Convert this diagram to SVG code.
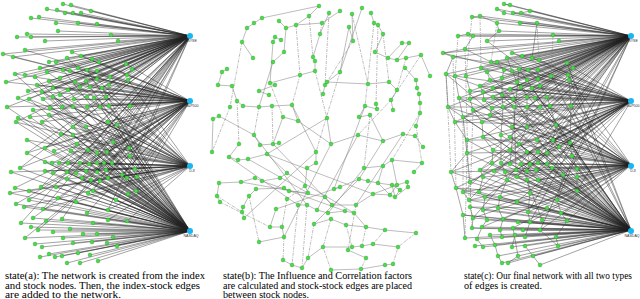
<svg xmlns="http://www.w3.org/2000/svg" width="640" height="299" viewBox="0 0 640 299">
<style>
.ie{fill:none;stroke:#222;stroke-width:.42;stroke-linejoin:bevel}
.se{fill:none;stroke:#7a7a7a;stroke-width:.5}
.sd{fill:none;stroke:#7a7a7a;stroke-width:.5;stroke-dasharray:3 1 1 1}
.sc{fill:none;stroke:#4a4a4a;stroke-width:.5}
.st circle{r:1.9px;fill:#48dc48;stroke:#2a9a2a;stroke-width:.4}
.hub circle{r:3px;fill:#1ab6ef}
.hl{font-family:"Liberation Sans",Arial,sans-serif;font-size:3.6px;fill:#333;text-anchor:middle}
.cap{font-family:"Liberation Serif","Times New Roman",serif;font-size:9.6px;fill:#000}
</style>
<rect width="640" height="299" fill="#fff"/>
<g id="connectors">
<path class="ie" d="M63,4 190,36 71,5M47,9 190,36 57,10M65,13 190,36 73,13M81,13 190,36 91,11M31,18 190,36 39,17M56,23 190,36 78,23M97,24 190,36 58,31M17,37 190,36 27,34M31,37 190,36 111,35M45,41 190,36 118,41M25,50 190,36 3,54M13,57 190,36 72,52M81,56 190,36 92,59M99,62 190,36 49,62M56,62 190,36 67,58M126,64 190,36 132,69M15,74 190,36 25,75M6,82 190,36 35,77M40,68 190,36 47,72M63,70 190,36 70,71M78,68 190,36 87,70M97,71 190,36 127,75M49,81 190,36 60,78M75,82 190,36 86,81M97,79 190,36 110,77M37,85 190,36 18,98M28,91 190,36 42,92M53,88 190,36 60,95M68,90 190,36 80,87M90,87 190,36 102,88M109,85 190,36 128,80M7,107 190,36 29,99M43,99 190,36 53,97M74,99 190,36 87,97M94,98 190,36 106,97M130,106 190,36 50,108M87,107 190,36 16,122M42,122 190,36 117,125M45,148 190,36 77,144M88,150 190,36 113,142M27,153 190,36 59,163M89,164 190,36 112,163M20,168 190,36 67,172M97,172 190,36 127,178M82,178 190,36 108,178M41,187 190,36 93,191M43,209 190,36 108,210M62,219 190,36 21,223"/>
<path class="ie" d="M25,50 190,101 13,57M3,54 190,101 81,56M99,62 190,101 56,62M126,64 190,101 15,74M6,82 190,101 40,68M63,70 190,101 78,68M97,71 190,101 49,81M75,82 190,101 97,79M37,85 190,101 28,91M53,88 190,101 68,90M90,87 190,101 109,85M7,107 190,101 43,99M74,99 190,101 94,98M130,106 190,101 33,110M62,107 190,101 87,107M109,106 190,101 30,117M42,122 190,101 86,127M108,122 190,101 45,148M73,135 190,101 54,151M88,150 190,101 107,152M129,148 190,101 27,153M52,163 190,101 68,163M89,164 190,101 104,163M135,169 190,101 20,168M53,173 190,101 76,173M97,172 190,101 122,175M137,177 190,101 82,178M100,181 190,101 15,188M41,187 190,101 88,193M136,191 190,101 16,204M29,200 190,101 58,198M116,200 190,101 87,213M33,218 190,101 38,230M25,238 190,101 72,52"/>
<path class="ie" d="M110,77 190,166 18,98M42,92 190,166 60,95M80,87 190,166 102,88M128,80 190,166 29,99M53,97 190,166 87,97M106,97 190,166 18,118M50,108 190,166 73,107M100,107 190,166 16,122M49,115 190,166 73,127M117,125 190,166 27,140M61,134 190,166 77,144M71,151 190,166 97,153M113,142 190,166 130,156M45,162 190,166 59,163M80,163 190,166 97,163M112,163 190,166 11,172M45,171 190,166 67,172M86,171 190,166 106,170M127,178 190,166 67,179M91,180 190,166 108,178M29,191 190,166 56,187M93,191 190,166 10,193M24,207 190,166 43,209M76,202 190,166 128,194M108,210 190,166 127,221M108,220 190,166 47,72M87,70 190,166 67,58"/>
<path class="ie" d="M18,118 190,231 33,110M50,108 190,231 62,107M73,107 190,231 87,107M100,107 190,231 109,106M16,122 190,231 30,117M49,115 190,231 42,122M73,127 190,231 86,127M117,125 190,231 108,122M27,140 190,231 45,148M61,134 190,231 73,135M77,144 190,231 54,151M71,151 190,231 88,150M97,153 190,231 107,152M113,142 190,231 129,148M130,156 190,231 27,153M45,162 190,231 52,163M59,163 190,231 68,163M80,163 190,231 89,164M97,163 190,231 104,163M112,163 190,231 135,169M11,172 190,231 20,168M45,171 190,231 53,173M67,172 190,231 76,173M86,171 190,231 97,172M106,170 190,231 122,175M127,178 190,231 137,177M67,179 190,231 82,178M91,180 190,231 100,181M108,178 190,231 15,188M29,191 190,231 41,187M56,187 190,231 88,193M93,191 190,231 136,191M10,193 190,231 16,204M24,207 190,231 29,200M43,209 190,231 58,198M76,202 190,231 116,200M128,194 190,231 87,213M108,210 190,231 127,221M21,223 190,231 33,218M46,221 190,231 62,219M93,223 190,231 108,220M31,227 190,231 38,230M53,232 190,231 70,229M83,234 190,231 97,234M113,237 190,231 25,238M35,244 190,231 63,238M73,243 190,231 107,243M117,246 190,231 42,247M40,257 190,231 49,254M55,257 190,231 62,256M78,253 190,231 90,255M67,263 190,231 80,263M98,261 190,231 92,242M15,74 190,231 35,77M63,70 190,231 87,70M49,81 190,231 86,81M37,85 190,231 42,92M68,90 190,231 102,88M7,107 190,231 53,97M94,98 190,231 29,99"/>
<path class="se" d="M319,6L309,16M319,6L262,18M262,18L254,23M254,23L247,28M247,28L242,42M279,21L286,28M286,28L296,25M296,25L322,23M286,28L284,52M284,52L273,62M273,62L259,107M281,40L275,37M275,37L273,42M273,42L270,83M309,16L296,25M329,13L320,34M340,11L322,23M352,14L353,41M353,41L349,27M362,8L340,72M371,13L374,23M374,23L378,25M378,25L383,34M383,34L375,52M375,52L388,58M388,58L397,60M397,60L406,58M406,58L421,55M402,43L409,43M402,43L388,58M409,43L397,60M421,55L430,76M405,68L416,80M416,80L417,88M417,88L419,94M419,94L420,103M420,103L420,113M420,113L416,126M313,57L315,61M315,61L315,71M315,71L300,75M300,75L270,83M270,83L275,85M275,85L259,91M259,91L269,95M227,69L222,72M222,72L218,85M218,85L232,86M232,86L237,101M237,101L243,106M243,106L259,107M259,107L272,106M272,106L292,105M292,105L298,121M298,121L283,117M283,117L273,144M325,85L327,82M327,82L368,84M368,84L389,82M389,82L397,90M397,90L391,100M391,100L393,110M376,104L377,109M377,109L365,106M365,106L359,117M359,117L370,115M370,115L383,141M327,118L331,144M323,94L325,85M320,34L313,57M349,27L340,72M340,72L327,82M253,58L242,42M219,116L213,119M213,119L212,152M219,116L254,135M254,135L260,145M260,145L273,144M273,144L279,143M239,144L229,157M229,157L238,160M238,160L248,159M248,159L267,154M267,154L287,173M287,173L280,178M280,178L262,181M262,181L255,178M255,178L241,182M241,182L219,183M219,183L217,196M217,196L220,202M316,152L316,163M316,163L307,168M307,168L305,186M305,186L308,193M308,193L289,191M289,191L284,188M284,188L256,189M256,189L249,196M249,196L243,207M243,207L242,212M242,212L244,218M331,144L358,135M358,135L383,141M383,141L403,134M403,134L415,136M415,136L423,147M364,168L383,166M383,166L392,160M392,160L422,163M422,163L414,172M359,179L368,181M368,181L378,183M378,183L392,185M392,185L397,185M397,185L407,182M407,182L408,187M373,194L390,195M390,195L395,197M395,197L400,190M378,183L390,195M392,185L395,197M397,185L390,195M400,190L392,185M408,187L395,197M373,194L397,185M383,166L378,183M392,160L397,185M334,189L340,187M340,187L359,179M325,197L332,205M332,205L356,205M356,205L373,194M298,205L307,205M307,205L317,210M317,210L328,213M328,213L345,211M345,211L354,213M354,213L366,227M276,209L270,227M270,227L282,227M282,227L284,237M284,237L259,242M314,224L331,219M331,219L346,225M346,225L366,227M366,227L385,230M385,230L416,233M323,247L352,247M352,247L362,246M362,246L373,244M373,244L398,247M283,260L292,265M292,265L302,268M302,268L308,258M308,258L323,247M331,270L361,269M361,269L385,265M385,265L393,264M348,250L366,258M254,135L307,205M229,157L298,205M241,182L325,197M316,152L244,218M331,144L284,237M358,135L317,210M403,134L356,205M287,173L354,213M262,181L345,211M267,154L373,194M273,144L332,205M340,187L276,209M359,179L314,224M364,168L328,213M248,159L308,193M292,105L316,152M298,121L331,144M327,118L267,154M365,106L334,189M383,141L359,179"/>
<path class="sd" d="M420,113L392,160M416,126L422,163M391,100L358,135M370,115L364,168M272,106L273,144M259,107L254,135M237,101L239,144M230,107L212,152M340,72L316,152M315,71L327,118M300,75L292,105M270,83L283,117M322,23L320,34M296,25L300,75M309,16L313,57M329,13L325,85M352,14L368,84M374,23L365,106M378,25L376,104M383,34L389,82M353,41L327,82M421,55L391,100M406,58L397,90M249,196L259,242M220,202L270,227M217,196L242,212M287,199L282,227M287,199L305,186M366,227L362,246M385,230L373,244M416,233L398,247M346,225L352,247M331,219L323,247M314,224L308,258M284,237L283,260M331,270L323,247M366,258L361,269M393,264L398,247M356,205L348,250M307,205L302,268M298,205L292,265M242,42L230,107"/>
<path class="ie" d="M504,4 631,36 510,5M497,9 631,36 504,13M513,13 631,36 521,13M530,11 631,36 472,17M480,16 631,36 497,23M520,23 631,36 537,23M499,31 631,36 458,36M468,34 631,36 473,36M553,35 631,36 487,41M559,41 631,36 465,49M443,53 631,36 453,57M512,53 631,36 522,56M532,58 631,36 491,62M497,62 631,36 507,58M539,60 631,36 567,63M573,68 631,36 446,74M455,76 631,36 466,76M481,68 631,36 487,72M504,70 631,36 512,71M519,69 631,36 528,70M538,70 631,36 568,75M490,80 631,36 502,78M517,82 631,36 527,80M538,79 631,36 551,76M480,86 631,36 459,98M470,91 631,36 483,92M493,88 631,36 502,95M510,89 631,36 521,87M532,88 631,36 540,86M569,80 631,36 448,107M470,99 631,36 484,100M493,97 631,36 513,99M527,97 631,36 535,98M547,97 631,36 571,106M455,122 631,36 473,110M492,108 631,36 503,107M514,107 631,36 527,107M540,107 631,36 550,106M463,117 631,36 490,115M482,122 631,36 512,127M527,127 631,36 556,125M483,137 631,36 537,140M493,150 631,36 547,153M501,163 631,36 538,163M480,170 631,36 527,171M517,177 631,36 463,192M469,200 631,36 557,200M528,212 631,36 473,218M530,222 631,36 540,230"/>
<path class="ie" d="M443,53 631,101 512,53M532,58 631,101 497,62M539,60 631,101 573,68M455,76 631,101 481,68M504,70 631,101 519,69M538,70 631,101 490,80M517,82 631,101 538,79M480,86 631,101 470,91M493,88 631,101 510,89M532,88 631,101 569,80M470,99 631,101 493,97M527,97 631,101 547,97M455,122 631,101 492,108M514,107 631,101 540,107M463,117 631,101 482,122M527,127 631,101 467,140M501,135 631,101 519,144M553,140 631,101 467,153M510,150 631,101 538,152M559,147 631,101 492,163M510,164 631,101 530,164M547,164 631,101 451,172M494,171 631,101 516,170M536,170 631,101 563,175M470,182 631,101 507,180M527,180 631,101 456,188M479,192 631,101 577,191M485,197 631,101 517,202"/>
<path class="ie" d="M551,76 631,165 459,98M483,92 631,165 502,95M521,87 631,165 540,86M448,107 631,165 484,100M513,99 631,165 535,98M571,106 631,165 473,110M503,107 631,165 527,107M550,106 631,165 490,115M512,127 631,165 556,125M483,137 631,165 510,137M537,140 631,165 570,143M493,150 631,165 527,152M547,153 631,165 572,156M501,163 631,165 521,164M538,163 631,165 577,169M480,170 631,165 505,172M527,171 631,165 552,168M577,177 631,165 483,177M517,177 631,165 538,180M463,192 631,165 530,193M469,200 631,165 500,197M557,200 631,165 483,210M528,212 631,165 561,213M473,218 631,165 503,219M530,222 631,165 567,221M482,227 631,165 513,228M540,230 631,165 568,75"/>
<path class="ie" d="M467,140 631,230 483,137M501,135 631,230 510,137M519,144 631,230 537,140M553,140 631,230 570,143M467,153 631,230 493,150M510,150 631,230 527,152M538,152 631,230 547,153M559,147 631,230 572,156M492,163 631,230 501,163M510,164 631,230 521,164M530,164 631,230 538,163M547,164 631,230 577,169M451,172 631,230 480,170M494,171 631,230 505,172M516,170 631,230 527,171M536,170 631,230 552,168M563,175 631,230 577,177M470,182 631,230 483,177M507,180 631,230 517,177M527,180 631,230 538,180M456,188 631,230 463,192M479,192 631,230 530,193M577,191 631,230 469,200M485,197 631,230 500,197M517,202 631,230 557,200M470,207 631,230 483,210M498,208 631,230 528,212M547,208 631,230 561,213M463,215 631,230 473,218M487,220 631,230 503,219M518,222 631,230 530,222M542,220 631,230 567,221M472,228 631,230 482,227M500,230 631,230 513,228M523,230 631,230 540,230M465,238 631,230 477,239M490,235 631,230 502,237M515,235 631,230 525,237M556,237 631,230 483,247M495,245 631,230 512,247M558,246 631,230 475,246M498,256 631,230 502,263M508,263 631,230 518,256M533,256 631,230 540,265M525,246 631,230 567,63M446,74 631,230 487,72M519,69 631,230 568,75M517,82 631,230 551,76M459,98 631,230 502,95M532,88 631,230 448,107M493,97 631,230 535,98M571,106 631,230 492,108M527,107 631,230 463,117M512,127 631,230 556,125"/>
<path class="sc" d="M472,17L480,16M480,16L497,23M497,23L499,31M499,31L487,41M504,4L510,5M497,9L504,13M513,13L521,13M521,13L530,11M520,23L537,23M537,23L532,58M458,36L468,34M468,34L473,36M473,36L465,49M465,49L443,53M443,53L453,57M453,57L446,74M446,74L448,107M448,107L455,122M455,122L467,140M467,140L467,153M467,153L451,172M451,172L456,188M456,188L463,215M463,215L465,238M455,76L459,98M459,98L463,117M463,117L470,182M466,76L470,91M470,91L470,99M470,99L473,110M473,110L482,122M482,122L483,137M483,137L493,150M493,150L492,163M492,163L480,170M480,170L483,177M483,177L479,192M479,192L485,197M485,197L483,210M483,210L487,220M487,220L482,227M482,227L477,239M477,239L483,247M512,53L522,56M522,56L532,58M532,58L539,60M507,58L512,71M512,71L517,82M517,82L521,87M521,87L527,97M527,97L527,107M527,107L527,127M527,127L519,144M519,144L527,152M527,152L530,164M530,164L527,171M527,171L527,180M527,180L530,193M530,193L528,212M528,212L530,222M530,222L525,237M538,70L538,79M538,79L540,86M540,86L547,97M547,97L550,106M550,106L556,125M556,125L553,140M553,140L559,147M559,147L547,153M547,153L547,164M547,164L552,168M552,168L563,175M563,175L557,200M557,200L561,213M561,213L567,221M567,221L556,237M556,237L558,246M567,63L573,68M573,68L568,75M568,75L569,80M569,80L571,106M571,106L570,143M570,143L572,156M572,156L577,169M577,169L577,177M577,177L577,191M491,62L497,62M497,62L504,70M504,70L502,78M502,78L502,95M502,95L503,107M503,107L501,135M501,135L501,163M501,163L505,172M505,172L507,180M507,180L500,197M500,197L498,208M498,208L503,219M503,219L500,230M500,230L502,237M481,68L487,72M487,72L490,80M490,80L480,86M480,86L483,92M483,92L484,100M484,100L492,108M492,108L490,115M487,41L538,79M465,49L527,80M453,57L538,70M446,74L538,107M459,98L547,97M448,107L540,107M455,122L556,125M467,140L537,140M467,153L538,152M451,172L536,170M456,188L530,193M463,215L530,222M472,228L540,230M470,207L547,208M469,200L557,200M510,89L547,153M512,127L567,63M493,88L559,147M510,137L568,75M519,69L510,164M514,107L516,170M510,150L538,180M521,164L542,220M513,228L518,256M498,256L502,263M508,263L518,256M533,256L540,265M525,246L533,256M495,245L498,256M490,235L495,245M512,247L515,235M558,246L540,230M463,192L469,200M470,207L473,218M473,218L472,228"/>
<path class="sd" d="M458,36L455,76M472,17L466,76M480,16L481,68M465,49L469,200M453,57L456,188M446,74L451,172M473,110L470,207M470,182L472,228M467,153L465,238M463,117L463,192M497,23L491,62M537,23L539,60M553,35L551,76"/>
</g>
<g class="hub">
<g id="a-nyse"><circle cx="190" cy="36"/><text class="hl" x="192" y="42">NYSE</text></g>
<g id="a-sp"><circle cx="190" cy="101"/><text class="hl" x="192" y="107">S&amp;P500</text></g>
<g id="a-dji"><circle cx="190" cy="166"/><text class="hl" x="192" y="172">DJI</text></g>
<g id="a-nasdaq"><circle cx="190" cy="231"/><text class="hl" x="191" y="237">NASDAQ</text></g>
<g id="c-nyse"><circle cx="631" cy="36"/><text class="hl" x="633" y="42">NYSE</text></g>
<g id="c-sp"><circle cx="631" cy="101"/><text class="hl" x="633" y="107">S&amp;P500</text></g>
<g id="c-dji"><circle cx="631" cy="166"/><text class="hl" x="633" y="172">DJI</text></g>
<g id="c-nasdaq"><circle cx="631" cy="231"/><text class="hl" x="632" y="237">NASDAQ</text></g>
</g>
<g class="st" id="nodes-a">
<g id="a1"><circle cx="63" cy="4"/></g><g id="a2"><circle cx="71" cy="5"/></g><g id="a3"><circle cx="47" cy="9"/></g><g id="a4"><circle cx="57" cy="10"/></g><g id="a5"><circle cx="65" cy="13"/></g><g id="a6"><circle cx="73" cy="13"/></g><g id="a7"><circle cx="81" cy="13"/></g><g id="a8"><circle cx="91" cy="11"/></g><g id="a9"><circle cx="31" cy="18"/></g><g id="a10"><circle cx="39" cy="17"/></g><g id="a11"><circle cx="56" cy="23"/></g><g id="a12"><circle cx="78" cy="23"/></g><g id="a13"><circle cx="97" cy="24"/></g><g id="a14"><circle cx="58" cy="31"/></g><g id="a15"><circle cx="17" cy="37"/></g><g id="a16"><circle cx="27" cy="34"/></g><g id="a17"><circle cx="31" cy="37"/></g><g id="a18"><circle cx="111" cy="35"/></g><g id="a19"><circle cx="45" cy="41"/></g><g id="a20"><circle cx="118" cy="41"/></g><g id="a21"><circle cx="25" cy="50"/></g><g id="a22"><circle cx="3" cy="54"/></g><g id="a23"><circle cx="13" cy="57"/></g><g id="a24"><circle cx="72" cy="52"/></g><g id="a25"><circle cx="81" cy="56"/></g><g id="a26"><circle cx="92" cy="59"/></g><g id="a27"><circle cx="99" cy="62"/></g><g id="a28"><circle cx="49" cy="62"/></g><g id="a29"><circle cx="56" cy="62"/></g><g id="a30"><circle cx="67" cy="58"/></g><g id="a31"><circle cx="126" cy="64"/></g><g id="a32"><circle cx="132" cy="69"/></g><g id="a33"><circle cx="15" cy="74"/></g><g id="a34"><circle cx="25" cy="75"/></g><g id="a35"><circle cx="6" cy="82"/></g><g id="a36"><circle cx="35" cy="77"/></g><g id="a37"><circle cx="40" cy="68"/></g><g id="a38"><circle cx="47" cy="72"/></g><g id="a39"><circle cx="63" cy="70"/></g><g id="a40"><circle cx="70" cy="71"/></g><g id="a41"><circle cx="78" cy="68"/></g><g id="a42"><circle cx="87" cy="70"/></g><g id="a43"><circle cx="97" cy="71"/></g><g id="a44"><circle cx="127" cy="75"/></g><g id="a45"><circle cx="49" cy="81"/></g><g id="a46"><circle cx="60" cy="78"/></g><g id="a47"><circle cx="75" cy="82"/></g><g id="a48"><circle cx="86" cy="81"/></g><g id="a49"><circle cx="97" cy="79"/></g><g id="a50"><circle cx="110" cy="77"/></g><g id="a51"><circle cx="37" cy="85"/></g><g id="a52"><circle cx="18" cy="98"/></g><g id="a53"><circle cx="28" cy="91"/></g><g id="a54"><circle cx="42" cy="92"/></g><g id="a55"><circle cx="53" cy="88"/></g><g id="a56"><circle cx="60" cy="95"/></g><g id="a57"><circle cx="68" cy="90"/></g><g id="a58"><circle cx="80" cy="87"/></g><g id="a59"><circle cx="90" cy="87"/></g><g id="a60"><circle cx="102" cy="88"/></g><g id="a61"><circle cx="109" cy="85"/></g><g id="a62"><circle cx="128" cy="80"/></g><g id="a63"><circle cx="7" cy="107"/></g><g id="a64"><circle cx="29" cy="99"/></g><g id="a65"><circle cx="43" cy="99"/></g><g id="a66"><circle cx="53" cy="97"/></g><g id="a67"><circle cx="74" cy="99"/></g><g id="a68"><circle cx="87" cy="97"/></g><g id="a69"><circle cx="94" cy="98"/></g><g id="a70"><circle cx="106" cy="97"/></g><g id="a71"><circle cx="130" cy="106"/></g><g id="a72"><circle cx="18" cy="118"/></g><g id="a73"><circle cx="33" cy="110"/></g><g id="a74"><circle cx="50" cy="108"/></g><g id="a75"><circle cx="62" cy="107"/></g><g id="a76"><circle cx="73" cy="107"/></g><g id="a77"><circle cx="87" cy="107"/></g><g id="a78"><circle cx="100" cy="107"/></g><g id="a79"><circle cx="109" cy="106"/></g><g id="a80"><circle cx="16" cy="122"/></g><g id="a81"><circle cx="30" cy="117"/></g><g id="a82"><circle cx="49" cy="115"/></g><g id="a83"><circle cx="42" cy="122"/></g><g id="a84"><circle cx="73" cy="127"/></g><g id="a85"><circle cx="86" cy="127"/></g><g id="a86"><circle cx="117" cy="125"/></g><g id="a87"><circle cx="108" cy="122"/></g><g id="a88"><circle cx="27" cy="140"/></g><g id="a89"><circle cx="45" cy="148"/></g><g id="a90"><circle cx="61" cy="134"/></g><g id="a91"><circle cx="73" cy="135"/></g><g id="a92"><circle cx="77" cy="144"/></g><g id="a93"><circle cx="54" cy="151"/></g><g id="a94"><circle cx="71" cy="151"/></g><g id="a95"><circle cx="88" cy="150"/></g><g id="a96"><circle cx="97" cy="153"/></g><g id="a97"><circle cx="107" cy="152"/></g><g id="a98"><circle cx="113" cy="142"/></g><g id="a99"><circle cx="129" cy="148"/></g><g id="a100"><circle cx="130" cy="156"/></g><g id="a101"><circle cx="27" cy="153"/></g><g id="a102"><circle cx="45" cy="162"/></g><g id="a103"><circle cx="52" cy="163"/></g><g id="a104"><circle cx="59" cy="163"/></g><g id="a105"><circle cx="68" cy="163"/></g><g id="a106"><circle cx="80" cy="163"/></g><g id="a107"><circle cx="89" cy="164"/></g><g id="a108"><circle cx="97" cy="163"/></g><g id="a109"><circle cx="104" cy="163"/></g><g id="a110"><circle cx="112" cy="163"/></g><g id="a111"><circle cx="135" cy="169"/></g><g id="a112"><circle cx="11" cy="172"/></g><g id="a113"><circle cx="20" cy="168"/></g><g id="a114"><circle cx="45" cy="171"/></g><g id="a115"><circle cx="53" cy="173"/></g><g id="a116"><circle cx="67" cy="172"/></g><g id="a117"><circle cx="76" cy="173"/></g><g id="a118"><circle cx="86" cy="171"/></g><g id="a119"><circle cx="97" cy="172"/></g><g id="a120"><circle cx="106" cy="170"/></g><g id="a121"><circle cx="122" cy="175"/></g><g id="a122"><circle cx="127" cy="178"/></g><g id="a123"><circle cx="137" cy="177"/></g><g id="a124"><circle cx="67" cy="179"/></g><g id="a125"><circle cx="82" cy="178"/></g><g id="a126"><circle cx="91" cy="180"/></g><g id="a127"><circle cx="100" cy="181"/></g><g id="a128"><circle cx="108" cy="178"/></g><g id="a129"><circle cx="15" cy="188"/></g><g id="a130"><circle cx="29" cy="191"/></g><g id="a131"><circle cx="41" cy="187"/></g><g id="a132"><circle cx="56" cy="187"/></g><g id="a133"><circle cx="88" cy="193"/></g><g id="a134"><circle cx="93" cy="191"/></g><g id="a135"><circle cx="136" cy="191"/></g><g id="a136"><circle cx="10" cy="193"/></g><g id="a137"><circle cx="16" cy="204"/></g><g id="a138"><circle cx="24" cy="207"/></g><g id="a139"><circle cx="29" cy="200"/></g><g id="a140"><circle cx="43" cy="209"/></g><g id="a141"><circle cx="58" cy="198"/></g><g id="a142"><circle cx="76" cy="202"/></g><g id="a143"><circle cx="116" cy="200"/></g><g id="a144"><circle cx="128" cy="194"/></g><g id="a145"><circle cx="87" cy="213"/></g><g id="a146"><circle cx="108" cy="210"/></g><g id="a147"><circle cx="127" cy="221"/></g><g id="a148"><circle cx="21" cy="223"/></g><g id="a149"><circle cx="33" cy="218"/></g><g id="a150"><circle cx="46" cy="221"/></g><g id="a151"><circle cx="62" cy="219"/></g><g id="a152"><circle cx="93" cy="223"/></g><g id="a153"><circle cx="108" cy="220"/></g><g id="a154"><circle cx="31" cy="227"/></g><g id="a155"><circle cx="38" cy="230"/></g><g id="a156"><circle cx="53" cy="232"/></g><g id="a157"><circle cx="70" cy="229"/></g><g id="a158"><circle cx="83" cy="234"/></g><g id="a159"><circle cx="97" cy="234"/></g><g id="a160"><circle cx="113" cy="237"/></g><g id="a161"><circle cx="25" cy="238"/></g><g id="a162"><circle cx="35" cy="244"/></g><g id="a163"><circle cx="63" cy="238"/></g><g id="a164"><circle cx="73" cy="243"/></g><g id="a165"><circle cx="107" cy="243"/></g><g id="a166"><circle cx="117" cy="246"/></g><g id="a167"><circle cx="42" cy="247"/></g><g id="a168"><circle cx="40" cy="257"/></g><g id="a169"><circle cx="49" cy="254"/></g><g id="a170"><circle cx="55" cy="257"/></g><g id="a171"><circle cx="62" cy="256"/></g><g id="a172"><circle cx="78" cy="253"/></g><g id="a173"><circle cx="90" cy="255"/></g><g id="a174"><circle cx="67" cy="263"/></g><g id="a175"><circle cx="80" cy="263"/></g><g id="a176"><circle cx="98" cy="261"/></g><g id="a177"><circle cx="92" cy="242"/></g>
</g>
<g class="st" id="nodes-b">
<g id="b1"><circle cx="319" cy="6"/></g><g id="b2"><circle cx="329" cy="13"/></g><g id="b3"><circle cx="340" cy="11"/></g><g id="b4"><circle cx="352" cy="14"/></g><g id="b5"><circle cx="362" cy="8"/></g><g id="b6"><circle cx="371" cy="13"/></g><g id="b7"><circle cx="262" cy="18"/></g><g id="b8"><circle cx="309" cy="16"/></g><g id="b9"><circle cx="254" cy="23"/></g><g id="b10"><circle cx="279" cy="21"/></g><g id="b11"><circle cx="247" cy="28"/></g><g id="b12"><circle cx="286" cy="28"/></g><g id="b13"><circle cx="296" cy="25"/></g><g id="b14"><circle cx="322" cy="23"/></g><g id="b15"><circle cx="349" cy="27"/></g><g id="b16"><circle cx="374" cy="23"/></g><g id="b17"><circle cx="378" cy="25"/></g><g id="b18"><circle cx="320" cy="34"/></g><g id="b19"><circle cx="275" cy="37"/></g><g id="b20"><circle cx="281" cy="40"/></g><g id="b21"><circle cx="242" cy="42"/></g><g id="b22"><circle cx="273" cy="42"/></g><g id="b23"><circle cx="353" cy="41"/></g><g id="b24"><circle cx="383" cy="34"/></g><g id="b25"><circle cx="402" cy="43"/></g><g id="b26"><circle cx="409" cy="43"/></g><g id="b27"><circle cx="284" cy="52"/></g><g id="b28"><circle cx="375" cy="52"/></g><g id="b29"><circle cx="253" cy="58"/></g><g id="b30"><circle cx="313" cy="57"/></g><g id="b31"><circle cx="273" cy="62"/></g><g id="b32"><circle cx="315" cy="61"/></g><g id="b33"><circle cx="388" cy="58"/></g><g id="b34"><circle cx="397" cy="60"/></g><g id="b35"><circle cx="406" cy="58"/></g><g id="b36"><circle cx="421" cy="55"/></g><g id="b37"><circle cx="222" cy="72"/></g><g id="b38"><circle cx="227" cy="69"/></g><g id="b39"><circle cx="300" cy="75"/></g><g id="b40"><circle cx="340" cy="72"/></g><g id="b41"><circle cx="315" cy="71"/></g><g id="b42"><circle cx="405" cy="68"/></g><g id="b43"><circle cx="430" cy="76"/></g><g id="b44"><circle cx="218" cy="85"/></g><g id="b45"><circle cx="232" cy="86"/></g><g id="b46"><circle cx="270" cy="83"/></g><g id="b47"><circle cx="275" cy="85"/></g><g id="b48"><circle cx="325" cy="85"/></g><g id="b49"><circle cx="327" cy="82"/></g><g id="b50"><circle cx="368" cy="84"/></g><g id="b51"><circle cx="389" cy="82"/></g><g id="b52"><circle cx="397" cy="90"/></g><g id="b53"><circle cx="416" cy="80"/></g><g id="b54"><circle cx="417" cy="88"/></g><g id="b55"><circle cx="259" cy="91"/></g><g id="b56"><circle cx="269" cy="95"/></g><g id="b57"><circle cx="323" cy="94"/></g><g id="b58"><circle cx="391" cy="100"/></g><g id="b59"><circle cx="419" cy="94"/></g><g id="b60"><circle cx="237" cy="101"/></g><g id="b61"><circle cx="243" cy="106"/></g><g id="b62"><circle cx="230" cy="107"/></g><g id="b63"><circle cx="259" cy="107"/></g><g id="b64"><circle cx="272" cy="106"/></g><g id="b65"><circle cx="292" cy="105"/></g><g id="b66"><circle cx="365" cy="106"/></g><g id="b67"><circle cx="376" cy="104"/></g><g id="b68"><circle cx="377" cy="109"/></g><g id="b69"><circle cx="393" cy="110"/></g><g id="b70"><circle cx="420" cy="103"/></g><g id="b71"><circle cx="219" cy="116"/></g><g id="b72"><circle cx="213" cy="119"/></g><g id="b73"><circle cx="283" cy="117"/></g><g id="b74"><circle cx="298" cy="121"/></g><g id="b75"><circle cx="327" cy="118"/></g><g id="b76"><circle cx="359" cy="117"/></g><g id="b77"><circle cx="370" cy="115"/></g><g id="b78"><circle cx="420" cy="113"/></g><g id="b79"><circle cx="416" cy="126"/></g><g id="b80"><circle cx="254" cy="135"/></g><g id="b81"><circle cx="273" cy="144"/></g><g id="b82"><circle cx="279" cy="143"/></g><g id="b83"><circle cx="260" cy="145"/></g><g id="b84"><circle cx="239" cy="144"/></g><g id="b85"><circle cx="331" cy="144"/></g><g id="b86"><circle cx="358" cy="135"/></g><g id="b87"><circle cx="383" cy="141"/></g><g id="b88"><circle cx="403" cy="134"/></g><g id="b89"><circle cx="415" cy="136"/></g><g id="b90"><circle cx="423" cy="147"/></g><g id="b91"><circle cx="212" cy="152"/></g><g id="b92"><circle cx="229" cy="157"/></g><g id="b93"><circle cx="238" cy="160"/></g><g id="b94"><circle cx="248" cy="159"/></g><g id="b95"><circle cx="267" cy="154"/></g><g id="b96"><circle cx="316" cy="152"/></g><g id="b97"><circle cx="316" cy="163"/></g><g id="b98"><circle cx="307" cy="168"/></g><g id="b99"><circle cx="364" cy="168"/></g><g id="b100"><circle cx="383" cy="166"/></g><g id="b101"><circle cx="392" cy="160"/></g><g id="b102"><circle cx="422" cy="163"/></g><g id="b103"><circle cx="414" cy="172"/></g><g id="b104"><circle cx="287" cy="173"/></g><g id="b105"><circle cx="255" cy="178"/></g><g id="b106"><circle cx="262" cy="181"/></g><g id="b107"><circle cx="280" cy="178"/></g><g id="b108"><circle cx="219" cy="183"/></g><g id="b109"><circle cx="241" cy="182"/></g><g id="b110"><circle cx="359" cy="179"/></g><g id="b111"><circle cx="368" cy="181"/></g><g id="b112"><circle cx="378" cy="183"/></g><g id="b113"><circle cx="392" cy="185"/></g><g id="b114"><circle cx="397" cy="185"/></g><g id="b115"><circle cx="407" cy="182"/></g><g id="b116"><circle cx="408" cy="187"/></g><g id="b117"><circle cx="256" cy="189"/></g><g id="b118"><circle cx="284" cy="188"/></g><g id="b119"><circle cx="289" cy="191"/></g><g id="b120"><circle cx="305" cy="186"/></g><g id="b121"><circle cx="308" cy="193"/></g><g id="b122"><circle cx="334" cy="189"/></g><g id="b123"><circle cx="340" cy="187"/></g><g id="b124"><circle cx="373" cy="194"/></g><g id="b125"><circle cx="390" cy="195"/></g><g id="b126"><circle cx="395" cy="197"/></g><g id="b127"><circle cx="400" cy="190"/></g><g id="b128"><circle cx="217" cy="196"/></g><g id="b129"><circle cx="220" cy="202"/></g><g id="b130"><circle cx="249" cy="196"/></g><g id="b131"><circle cx="287" cy="199"/></g><g id="b132"><circle cx="298" cy="205"/></g><g id="b133"><circle cx="307" cy="205"/></g><g id="b134"><circle cx="325" cy="197"/></g><g id="b135"><circle cx="332" cy="205"/></g><g id="b136"><circle cx="356" cy="205"/></g><g id="b137"><circle cx="317" cy="210"/></g><g id="b138"><circle cx="328" cy="213"/></g><g id="b139"><circle cx="345" cy="211"/></g><g id="b140"><circle cx="354" cy="213"/></g><g id="b141"><circle cx="243" cy="207"/></g><g id="b142"><circle cx="242" cy="212"/></g><g id="b143"><circle cx="244" cy="218"/></g><g id="b144"><circle cx="276" cy="209"/></g><g id="b145"><circle cx="331" cy="219"/></g><g id="b146"><circle cx="346" cy="225"/></g><g id="b147"><circle cx="366" cy="227"/></g><g id="b148"><circle cx="270" cy="227"/></g><g id="b149"><circle cx="282" cy="227"/></g><g id="b150"><circle cx="314" cy="224"/></g><g id="b151"><circle cx="284" cy="237"/></g><g id="b152"><circle cx="385" cy="230"/></g><g id="b153"><circle cx="416" cy="233"/></g><g id="b154"><circle cx="259" cy="242"/></g><g id="b155"><circle cx="323" cy="247"/></g><g id="b156"><circle cx="352" cy="247"/></g><g id="b157"><circle cx="362" cy="246"/></g><g id="b158"><circle cx="373" cy="244"/></g><g id="b159"><circle cx="398" cy="247"/></g><g id="b160"><circle cx="283" cy="260"/></g><g id="b161"><circle cx="292" cy="265"/></g><g id="b162"><circle cx="302" cy="268"/></g><g id="b163"><circle cx="308" cy="258"/></g><g id="b164"><circle cx="331" cy="270"/></g><g id="b165"><circle cx="361" cy="269"/></g><g id="b166"><circle cx="385" cy="265"/></g><g id="b167"><circle cx="393" cy="264"/></g><g id="b168"><circle cx="348" cy="250"/></g><g id="b169"><circle cx="366" cy="258"/></g>
</g>
<g class="st" id="nodes-c">
<g id="c1"><circle cx="504" cy="4"/></g><g id="c2"><circle cx="510" cy="5"/></g><g id="c3"><circle cx="497" cy="9"/></g><g id="c4"><circle cx="504" cy="13"/></g><g id="c5"><circle cx="513" cy="13"/></g><g id="c6"><circle cx="521" cy="13"/></g><g id="c7"><circle cx="530" cy="11"/></g><g id="c8"><circle cx="472" cy="17"/></g><g id="c9"><circle cx="480" cy="16"/></g><g id="c10"><circle cx="497" cy="23"/></g><g id="c11"><circle cx="520" cy="23"/></g><g id="c12"><circle cx="537" cy="23"/></g><g id="c13"><circle cx="499" cy="31"/></g><g id="c14"><circle cx="458" cy="36"/></g><g id="c15"><circle cx="468" cy="34"/></g><g id="c16"><circle cx="473" cy="36"/></g><g id="c17"><circle cx="553" cy="35"/></g><g id="c18"><circle cx="487" cy="41"/></g><g id="c19"><circle cx="559" cy="41"/></g><g id="c20"><circle cx="465" cy="49"/></g><g id="c21"><circle cx="443" cy="53"/></g><g id="c22"><circle cx="453" cy="57"/></g><g id="c23"><circle cx="512" cy="53"/></g><g id="c24"><circle cx="522" cy="56"/></g><g id="c25"><circle cx="532" cy="58"/></g><g id="c26"><circle cx="491" cy="62"/></g><g id="c27"><circle cx="497" cy="62"/></g><g id="c28"><circle cx="507" cy="58"/></g><g id="c29"><circle cx="539" cy="60"/></g><g id="c30"><circle cx="567" cy="63"/></g><g id="c31"><circle cx="573" cy="68"/></g><g id="c32"><circle cx="446" cy="74"/></g><g id="c33"><circle cx="455" cy="76"/></g><g id="c34"><circle cx="466" cy="76"/></g><g id="c35"><circle cx="481" cy="68"/></g><g id="c36"><circle cx="487" cy="72"/></g><g id="c37"><circle cx="504" cy="70"/></g><g id="c38"><circle cx="512" cy="71"/></g><g id="c39"><circle cx="519" cy="69"/></g><g id="c40"><circle cx="528" cy="70"/></g><g id="c41"><circle cx="538" cy="70"/></g><g id="c42"><circle cx="568" cy="75"/></g><g id="c43"><circle cx="490" cy="80"/></g><g id="c44"><circle cx="502" cy="78"/></g><g id="c45"><circle cx="517" cy="82"/></g><g id="c46"><circle cx="527" cy="80"/></g><g id="c47"><circle cx="538" cy="79"/></g><g id="c48"><circle cx="551" cy="76"/></g><g id="c49"><circle cx="480" cy="86"/></g><g id="c50"><circle cx="459" cy="98"/></g><g id="c51"><circle cx="470" cy="91"/></g><g id="c52"><circle cx="483" cy="92"/></g><g id="c53"><circle cx="493" cy="88"/></g><g id="c54"><circle cx="502" cy="95"/></g><g id="c55"><circle cx="510" cy="89"/></g><g id="c56"><circle cx="521" cy="87"/></g><g id="c57"><circle cx="532" cy="88"/></g><g id="c58"><circle cx="540" cy="86"/></g><g id="c59"><circle cx="569" cy="80"/></g><g id="c60"><circle cx="448" cy="107"/></g><g id="c61"><circle cx="470" cy="99"/></g><g id="c62"><circle cx="484" cy="100"/></g><g id="c63"><circle cx="493" cy="97"/></g><g id="c64"><circle cx="513" cy="99"/></g><g id="c65"><circle cx="527" cy="97"/></g><g id="c66"><circle cx="535" cy="98"/></g><g id="c67"><circle cx="547" cy="97"/></g><g id="c68"><circle cx="571" cy="106"/></g><g id="c69"><circle cx="455" cy="122"/></g><g id="c70"><circle cx="473" cy="110"/></g><g id="c71"><circle cx="492" cy="108"/></g><g id="c72"><circle cx="503" cy="107"/></g><g id="c73"><circle cx="514" cy="107"/></g><g id="c74"><circle cx="527" cy="107"/></g><g id="c75"><circle cx="540" cy="107"/></g><g id="c76"><circle cx="550" cy="106"/></g><g id="c77"><circle cx="463" cy="117"/></g><g id="c78"><circle cx="490" cy="115"/></g><g id="c79"><circle cx="482" cy="122"/></g><g id="c80"><circle cx="512" cy="127"/></g><g id="c81"><circle cx="527" cy="127"/></g><g id="c82"><circle cx="556" cy="125"/></g><g id="c83"><circle cx="467" cy="140"/></g><g id="c84"><circle cx="483" cy="137"/></g><g id="c85"><circle cx="501" cy="135"/></g><g id="c86"><circle cx="510" cy="137"/></g><g id="c87"><circle cx="519" cy="144"/></g><g id="c88"><circle cx="537" cy="140"/></g><g id="c89"><circle cx="553" cy="140"/></g><g id="c90"><circle cx="570" cy="143"/></g><g id="c91"><circle cx="467" cy="153"/></g><g id="c92"><circle cx="493" cy="150"/></g><g id="c93"><circle cx="510" cy="150"/></g><g id="c94"><circle cx="527" cy="152"/></g><g id="c95"><circle cx="538" cy="152"/></g><g id="c96"><circle cx="547" cy="153"/></g><g id="c97"><circle cx="559" cy="147"/></g><g id="c98"><circle cx="572" cy="156"/></g><g id="c99"><circle cx="492" cy="163"/></g><g id="c100"><circle cx="501" cy="163"/></g><g id="c101"><circle cx="510" cy="164"/></g><g id="c102"><circle cx="521" cy="164"/></g><g id="c103"><circle cx="530" cy="164"/></g><g id="c104"><circle cx="538" cy="163"/></g><g id="c105"><circle cx="547" cy="164"/></g><g id="c106"><circle cx="577" cy="169"/></g><g id="c107"><circle cx="451" cy="172"/></g><g id="c108"><circle cx="480" cy="170"/></g><g id="c109"><circle cx="494" cy="171"/></g><g id="c110"><circle cx="505" cy="172"/></g><g id="c111"><circle cx="516" cy="170"/></g><g id="c112"><circle cx="527" cy="171"/></g><g id="c113"><circle cx="536" cy="170"/></g><g id="c114"><circle cx="552" cy="168"/></g><g id="c115"><circle cx="563" cy="175"/></g><g id="c116"><circle cx="577" cy="177"/></g><g id="c117"><circle cx="470" cy="182"/></g><g id="c118"><circle cx="483" cy="177"/></g><g id="c119"><circle cx="507" cy="180"/></g><g id="c120"><circle cx="517" cy="177"/></g><g id="c121"><circle cx="527" cy="180"/></g><g id="c122"><circle cx="538" cy="180"/></g><g id="c123"><circle cx="456" cy="188"/></g><g id="c124"><circle cx="463" cy="192"/></g><g id="c125"><circle cx="479" cy="192"/></g><g id="c126"><circle cx="530" cy="193"/></g><g id="c127"><circle cx="577" cy="191"/></g><g id="c128"><circle cx="469" cy="200"/></g><g id="c129"><circle cx="485" cy="197"/></g><g id="c130"><circle cx="500" cy="197"/></g><g id="c131"><circle cx="517" cy="202"/></g><g id="c132"><circle cx="557" cy="200"/></g><g id="c133"><circle cx="470" cy="207"/></g><g id="c134"><circle cx="483" cy="210"/></g><g id="c135"><circle cx="498" cy="208"/></g><g id="c136"><circle cx="528" cy="212"/></g><g id="c137"><circle cx="547" cy="208"/></g><g id="c138"><circle cx="561" cy="213"/></g><g id="c139"><circle cx="463" cy="215"/></g><g id="c140"><circle cx="473" cy="218"/></g><g id="c141"><circle cx="487" cy="220"/></g><g id="c142"><circle cx="503" cy="219"/></g><g id="c143"><circle cx="518" cy="222"/></g><g id="c144"><circle cx="530" cy="222"/></g><g id="c145"><circle cx="542" cy="220"/></g><g id="c146"><circle cx="567" cy="221"/></g><g id="c147"><circle cx="472" cy="228"/></g><g id="c148"><circle cx="482" cy="227"/></g><g id="c149"><circle cx="500" cy="230"/></g><g id="c150"><circle cx="513" cy="228"/></g><g id="c151"><circle cx="523" cy="230"/></g><g id="c152"><circle cx="540" cy="230"/></g><g id="c153"><circle cx="465" cy="238"/></g><g id="c154"><circle cx="477" cy="239"/></g><g id="c155"><circle cx="490" cy="235"/></g><g id="c156"><circle cx="502" cy="237"/></g><g id="c157"><circle cx="515" cy="235"/></g><g id="c158"><circle cx="525" cy="237"/></g><g id="c159"><circle cx="556" cy="237"/></g><g id="c160"><circle cx="483" cy="247"/></g><g id="c161"><circle cx="495" cy="245"/></g><g id="c162"><circle cx="512" cy="247"/></g><g id="c163"><circle cx="558" cy="246"/></g><g id="c164"><circle cx="475" cy="246"/></g><g id="c165"><circle cx="498" cy="256"/></g><g id="c166"><circle cx="502" cy="263"/></g><g id="c167"><circle cx="508" cy="263"/></g><g id="c168"><circle cx="518" cy="256"/></g><g id="c169"><circle cx="533" cy="256"/></g><g id="c170"><circle cx="540" cy="265"/></g><g id="c171"><circle cx="525" cy="246"/></g>
</g>
<g id="captions">
<text class="cap" x="5" y="279" textLength="200" lengthAdjust="spacingAndGlyphs">state(a): The network is created from the index</text>
<text class="cap" x="5" y="288.5" textLength="195" lengthAdjust="spacingAndGlyphs">and stock nodes. Then, the index-stock edges</text>
<text class="cap" x="5" y="298" textLength="116" lengthAdjust="spacingAndGlyphs">are added to the network.</text>
<text class="cap" x="223" y="279" textLength="189" lengthAdjust="spacingAndGlyphs">state(b): The Influence and Correlation factors</text>
<text class="cap" x="223" y="288.5" textLength="189" lengthAdjust="spacingAndGlyphs">are calculated and stock-stock edges are placed</text>
<text class="cap" x="223" y="298" textLength="86" lengthAdjust="spacingAndGlyphs">between stock nodes.</text>
<text class="cap" x="464" y="279" textLength="168" lengthAdjust="spacingAndGlyphs">state(c): Our final network with all two types</text>
<text class="cap" x="464" y="288.5" textLength="78" lengthAdjust="spacingAndGlyphs">of edges is created.</text>
</g>
</svg>
